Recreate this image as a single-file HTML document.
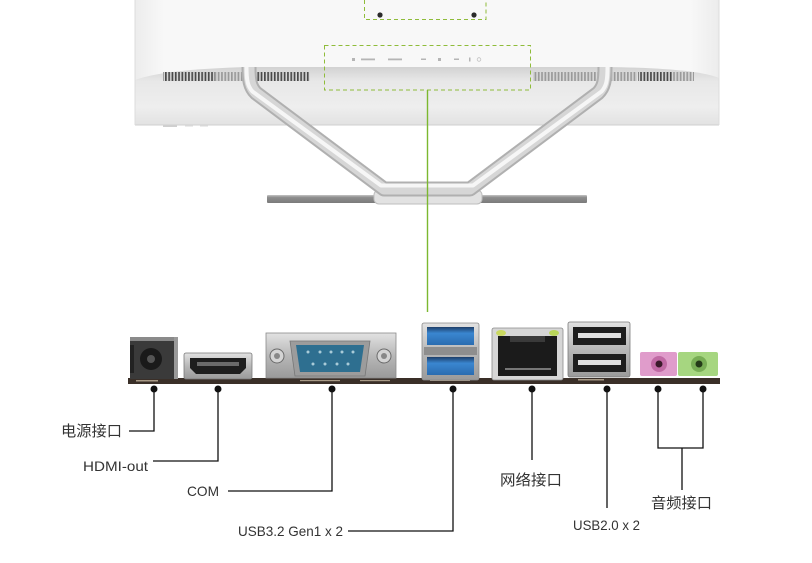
<!DOCTYPE html>
<html><head><meta charset="utf-8"><style>
html,body{margin:0;padding:0;background:#fff;}
svg{display:block;}
text{font-family:"Liberation Sans","Noto Sans CJK SC",sans-serif;fill:#333;}
</style></head><body>
<svg width="812" height="563" viewBox="0 0 812 563" xmlns="http://www.w3.org/2000/svg">
<defs>
<linearGradient id="monTop" x1="0" y1="0" x2="1" y2="0">
<stop offset="0" stop-color="#ececec"/><stop offset="0.05" stop-color="#f8f8f8"/><stop offset="0.95" stop-color="#f8f8f8"/><stop offset="1" stop-color="#ececec"/>
</linearGradient>
<linearGradient id="monBot" x1="0" y1="0" x2="0" y2="1">
<stop offset="0" stop-color="#d2d2d2"/><stop offset="0.25" stop-color="#e8e8e8"/><stop offset="0.7" stop-color="#eeeeee"/><stop offset="1" stop-color="#e2e2e2"/>
</linearGradient>
<pattern id="ventD" width="3.3" height="12" patternUnits="userSpaceOnUse"><rect width="3.3" height="12" fill="#d8d8d8"/><rect x="0" width="1.7" height="12" fill="#4a4a4a"/></pattern>
<pattern id="ventL" width="3.3" height="12" patternUnits="userSpaceOnUse"><rect width="3.3" height="12" fill="#d8d8d8"/><rect x="0" width="1.7" height="12" fill="#9a9a9a"/></pattern>
<linearGradient id="plate" x1="0" y1="0" x2="0" y2="1"><stop offset="0" stop-color="#c4c4c4"/><stop offset="0.3" stop-color="#8e8e8e"/><stop offset="1" stop-color="#7a7a7a"/></linearGradient>
<linearGradient id="metal" x1="0" y1="0" x2="0" y2="1"><stop offset="0" stop-color="#e2e2e2"/><stop offset="0.5" stop-color="#b8b8b8"/><stop offset="1" stop-color="#9a9a9a"/></linearGradient>
<linearGradient id="blue" x1="0" y1="0" x2="0" y2="1"><stop offset="0" stop-color="#1d3f6a"/><stop offset="0.35" stop-color="#3a86d0"/><stop offset="1" stop-color="#2a6cb0"/></linearGradient>
</defs>

<!-- Monitor -->
<rect x="135" y="-5" width="584" height="130" fill="url(#monTop)"/>
<path d="M135,80 Q165,69 250,67 L605,67 Q695,68 719,78 L719,125 L135,125 Z" fill="url(#monBot)"/>
<line x1="135" y1="125" x2="719" y2="125" stroke="#cfcfcf" stroke-width="1"/>
<line x1="135" y1="0" x2="135" y2="125" stroke="#dcdcdc" stroke-width="1"/>
<line x1="719" y1="0" x2="719" y2="125" stroke="#dcdcdc" stroke-width="1"/>
<!-- vents -->
<rect x="163" y="72" width="52" height="9" fill="url(#ventD)"/>
<rect x="215" y="72" width="28" height="9" fill="url(#ventL)"/>
<rect x="254" y="72" width="56" height="9" fill="url(#ventD)"/>
<rect x="533" y="72" width="65" height="9" fill="url(#ventL)"/>
<rect x="611" y="72" width="26" height="9" fill="url(#ventL)"/>
<rect x="638" y="72" width="34" height="9" fill="url(#ventD)"/>
<rect x="672" y="72" width="22" height="9" fill="url(#ventL)"/>
<rect x="163" y="125" width="14" height="2" fill="#cfcfcf"/>
<rect x="185" y="125" width="8" height="1.5" fill="#d8d8d8"/>
<rect x="200" y="125" width="8" height="1.5" fill="#d8d8d8"/>

<!-- front panel marks -->
<g fill="#b5b5b5">
<rect x="352" y="58" width="3" height="3"/>
<rect x="361" y="58.5" width="14" height="1.8"/>
<rect x="388" y="58.5" width="14" height="1.8"/>
<rect x="421" y="58.5" width="5" height="1.5"/>
<rect x="438" y="58" width="3" height="3"/>
<rect x="454" y="58.5" width="5" height="1.5"/>
<rect x="469" y="57.5" width="1.5" height="4"/>
<circle cx="479" cy="59.5" r="1.8" fill="none" stroke="#c2c2c2" stroke-width="0.8"/>
</g>

<!-- stand base plate -->
<rect x="267" y="195" width="320" height="8" rx="1" fill="url(#plate)"/>
<rect x="374" y="190" width="108" height="14" rx="5" fill="#e2e2e2" stroke="#bdbdbd" stroke-width="1"/>
<!-- stand legs -->
<path d="M249,67 C249,80 250,87 256,93 L384,189 L470,189 L598,93 C604,87 605,80 605,67" fill="none" stroke="#b0b0b0" stroke-width="15" stroke-linejoin="round"/>
<path d="M249,67 C249,80 250,87 256,93 L384,189 L470,189 L598,93 C604,87 605,80 605,67" fill="none" stroke="#d6d6d6" stroke-width="11" stroke-linejoin="round"/>
<path d="M246.5,67 C246.5,80 247.5,86 252.5,91.5 L381,185.5 L473,185.5 L601.5,91.5 C606.5,86 607.5,80 607.5,67" fill="none" stroke="#f6f6f6" stroke-width="4" stroke-linejoin="round"/>

<!-- dashed boxes -->
<rect x="364.5" y="-2" width="121.5" height="21.5" fill="none" stroke="#8fbc3a" stroke-width="1" stroke-dasharray="4,3"/>
<circle cx="380" cy="15" r="2.6" fill="#2a2a2a"/>
<circle cx="474" cy="15" r="2.6" fill="#2a2a2a"/>
<rect x="324.5" y="45.5" width="206" height="44.5" fill="none" stroke="#8fbc3a" stroke-width="1" stroke-dasharray="4,3"/>
<line x1="427.5" y1="90" x2="427.5" y2="312" stroke="#7cb82f" stroke-width="1.4"/>

<!-- PCB strip -->
<rect x="128" y="378" width="592" height="6" fill="#3a2f28"/>
<g fill="#a89a86">
<rect x="136" y="380" width="22" height="1.5"/><rect x="300" y="380" width="40" height="1.2"/><rect x="360" y="380" width="30" height="1.2"/>
<rect x="578" y="379" width="26" height="1.5"/><rect x="430" y="380" width="40" height="1"/>
</g>

<!-- Power jack -->
<rect x="130" y="337" width="48" height="42" fill="#3a3a3a"/>
<rect x="130" y="337" width="48" height="4" fill="#8a8a8a"/>
<rect x="174" y="337" width="4" height="42" fill="#9a9a9a"/>
<circle cx="151" cy="359" r="11" fill="#1a1a1a"/>
<circle cx="151" cy="359" r="4" fill="#555"/>
<rect x="130" y="345" width="4" height="28" fill="#222"/>

<!-- HDMI -->
<rect x="184" y="353" width="68" height="26" rx="2" fill="url(#metal)" stroke="#7a7a7a" stroke-width="0.8"/>
<path d="M190,358 L246,358 L246,368 L240,374 L196,374 L190,368 Z" fill="#1e1e1e"/>
<rect x="197" y="362" width="42" height="4" fill="#6a6a6a"/>

<!-- COM -->
<rect x="266" y="333" width="130" height="45" fill="url(#metal)" stroke="#8a8a8a" stroke-width="0.8"/>
<path d="M290,341 L370,341 L365,376 L295,376 Z" fill="#9c9c9c" stroke="#777" stroke-width="0.8"/>
<path d="M296,345 L364,345 L360,372 L300,372 Z" fill="#2e6f90"/>
<g fill="#a9cbd8">
<circle cx="308" cy="352" r="1.5"/><circle cx="320" cy="352" r="1.5"/><circle cx="331" cy="352" r="1.5"/><circle cx="342" cy="352" r="1.5"/><circle cx="353" cy="352" r="1.5"/>
<circle cx="313" cy="364" r="1.5"/><circle cx="325" cy="364" r="1.5"/><circle cx="337" cy="364" r="1.5"/><circle cx="348" cy="364" r="1.5"/>
</g>
<circle cx="277" cy="356" r="7" fill="#d4d4d4" stroke="#6a6a6a" stroke-width="1"/>
<circle cx="277" cy="356" r="3" fill="#888"/>
<circle cx="384" cy="356" r="7" fill="#d4d4d4" stroke="#6a6a6a" stroke-width="1"/>
<circle cx="384" cy="356" r="3" fill="#888"/>

<!-- USB3 -->
<rect x="422" y="323" width="57" height="57" rx="2" fill="url(#metal)" stroke="#8a8a8a" stroke-width="0.8"/>
<rect x="427" y="327" width="47" height="18" fill="url(#blue)"/>
<rect x="427" y="357" width="47" height="18" fill="url(#blue)"/>
<rect x="424" y="347" width="53" height="8" fill="#8e8e8e"/>

<!-- RJ45 -->
<rect x="492" y="328" width="71" height="52" rx="2" fill="#d6d6d6" stroke="#8a8a8a" stroke-width="0.8"/>
<rect x="498" y="336" width="59" height="40" fill="#1b1b1b"/>
<path d="M510,336 L545,336 L545,342 L510,342 Z" fill="#3a3a3a"/>
<ellipse cx="501" cy="333" rx="5" ry="3" fill="#c9d860"/>
<ellipse cx="554" cy="333" rx="5" ry="3" fill="#b9d65a"/>
<g fill="#777"><rect x="505" y="368" width="46" height="2"/></g>

<!-- USB2 -->
<rect x="568" y="322" width="62" height="55" rx="2" fill="url(#metal)" stroke="#7a7a7a" stroke-width="0.8"/>
<rect x="573" y="327" width="53" height="18" fill="#1e1e1e"/>
<rect x="573" y="354" width="53" height="18" fill="#1e1e1e"/>
<rect x="578" y="333" width="43" height="5" fill="#e0e0e0"/>
<rect x="578" y="360" width="43" height="5" fill="#e0e0e0"/>

<!-- Audio -->
<rect x="640" y="352" width="37" height="24" rx="2" fill="#e09ccb"/>
<circle cx="659" cy="364" r="8" fill="#c06aa4"/>
<circle cx="659" cy="364" r="3.5" fill="#3a1a2a"/>
<rect x="678" y="352" width="40" height="24" rx="2" fill="#a6d680"/>
<circle cx="699" cy="364" r="8" fill="#78ad55"/>
<circle cx="699" cy="364" r="3.5" fill="#243a18"/>

<!-- connectors -->
<g stroke="#111" stroke-width="1.3" fill="none">
<polyline points="154,389 154,431 129,431"/>
<polyline points="218,389 218,461 153,461"/>
<polyline points="332,389 332,491 228,491"/>
<polyline points="453,389 453,531 348,531"/>
<polyline points="532,389 532,460"/>
<polyline points="607,389 607,508"/>
<polyline points="658,389 658,448 703,448 703,389"/>
<polyline points="682,448 682,490"/>
</g>
<g fill="#111">
<circle cx="154" cy="389" r="3.5"/><circle cx="218" cy="389" r="3.5"/><circle cx="332" cy="389" r="3.5"/>
<circle cx="453" cy="389" r="3.5"/><circle cx="532" cy="389" r="3.5"/><circle cx="607" cy="389" r="3.5"/>
<circle cx="658" cy="389" r="3.5"/><circle cx="703" cy="389" r="3.5"/>
</g>

<!-- labels -->
<text x="61" y="436" font-size="15" textLength="61" lengthAdjust="spacingAndGlyphs">电源接口</text>
<text x="83" y="471" font-size="14" textLength="65" lengthAdjust="spacingAndGlyphs">HDMI-out</text>
<text x="187" y="496" font-size="14" textLength="32" lengthAdjust="spacingAndGlyphs">COM</text>
<text x="238" y="536" font-size="14" textLength="105" lengthAdjust="spacingAndGlyphs">USB3.2 Gen1 x 2</text>
<text x="500" y="485" font-size="15" textLength="62" lengthAdjust="spacingAndGlyphs">网络接口</text>
<text x="573" y="530" font-size="14" textLength="67" lengthAdjust="spacingAndGlyphs">USB2.0 x 2</text>
<text x="651" y="508" font-size="15" textLength="61" lengthAdjust="spacingAndGlyphs">音频接口</text>
</svg>
</body></html>
